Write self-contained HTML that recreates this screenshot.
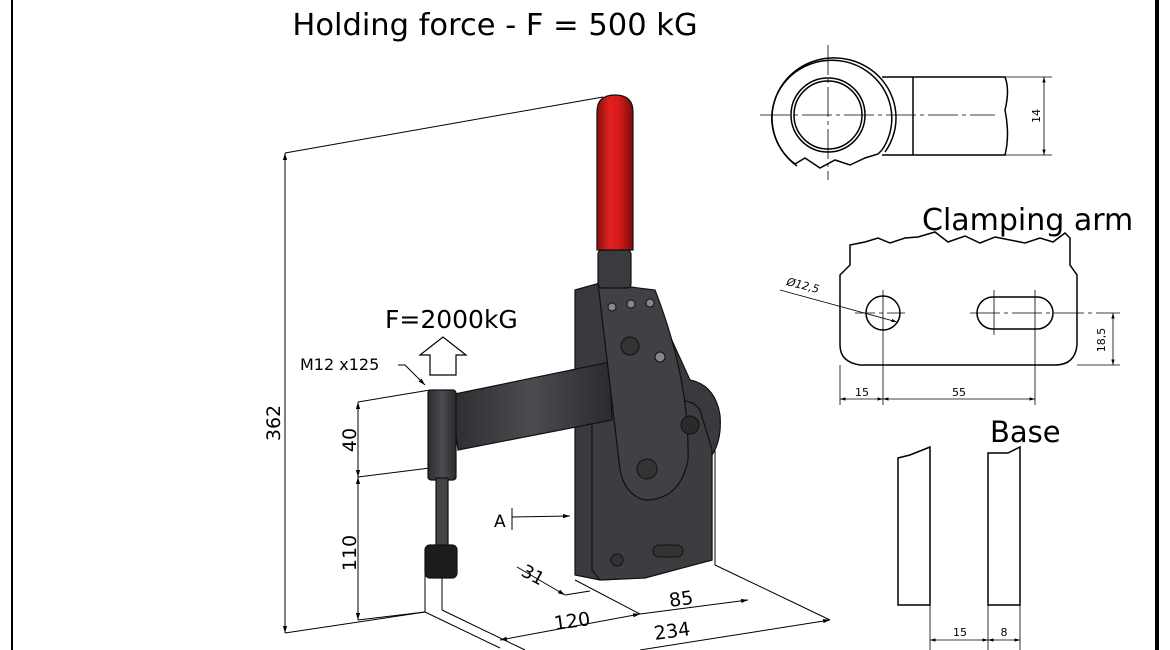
<!DOCTYPE html>
<html><head><meta charset="utf-8"><style>
html,body{margin:0;padding:0;background:#fff;}
svg{display:block;font-family:"DejaVu Sans","Liberation Sans",sans-serif;}
</style></head><body>
<svg width="1170" height="650" viewBox="0 0 1170 650" xmlns="http://www.w3.org/2000/svg">
<defs>
<linearGradient id="red" x1="0" x2="1" y1="0" y2="0">
<stop offset="0" stop-color="#8a0f0f"/><stop offset="0.35" stop-color="#e02020"/><stop offset="0.6" stop-color="#d81a1a"/><stop offset="1" stop-color="#7a0c0c"/>
</linearGradient>
<linearGradient id="dk" x1="0" x2="1"><stop offset="0" stop-color="#2c2d30"/><stop offset="0.5" stop-color="#4a4c50"/><stop offset="1" stop-color="#2a2b2e"/></linearGradient>
<marker id="ar" viewBox="0 0 10 10" refX="10" refY="5" markerWidth="7" markerHeight="7" orient="auto-start-reverse"><path d="M0,2 L10,5 L0,8z" fill="#000"/></marker>
</defs>
<rect width="1170" height="650" fill="#fff"/>
<line x1="12" y1="0" x2="12" y2="650" stroke="#000" stroke-width="2"/>
<line x1="1157" y1="0" x2="1157" y2="650" stroke="#000" stroke-width="4"/>
<text x="495" y="35" font-size="30.5" text-anchor="middle">Holding force - F = 500 kG</text>

<g stroke="#000" stroke-width="1" fill="none">
<line x1="285" y1="153" x2="603" y2="97"/>
<line x1="285" y1="153" x2="285" y2="633" marker-start="url(#ar)" marker-end="url(#ar)"/>
<line x1="285" y1="633" x2="425" y2="612"/>
<line x1="425" y1="612" x2="425" y2="575"/>
<line x1="442" y1="610" x2="442" y2="575"/>
<line x1="425" y1="612" x2="500" y2="648"/>
<line x1="442" y1="610" x2="525" y2="650"/>
<line x1="358" y1="402" x2="430" y2="390"/>
<line x1="358" y1="477" x2="430" y2="468"/>
<line x1="358" y1="402" x2="358" y2="477" marker-start="url(#ar)" marker-end="url(#ar)"/>
<line x1="358" y1="477" x2="358" y2="620" marker-start="url(#ar)" marker-end="url(#ar)"/>
<line x1="358" y1="620" x2="425" y2="612"/>
<line x1="500" y1="640" x2="640" y2="614" marker-start="url(#ar)" marker-end="url(#ar)"/>
<line x1="575" y1="580" x2="640" y2="614"/>
<line x1="640" y1="614" x2="748" y2="600" marker-end="url(#ar)"/>
<line x1="715" y1="445" x2="715" y2="565"/>
<line x1="715" y1="565" x2="830" y2="620"/>
<line x1="640" y1="650" x2="830" y2="620" marker-end="url(#ar)"/>
<line x1="517" y1="567" x2="565" y2="595" marker-end="url(#ar)"/>
<line x1="565" y1="595" x2="590" y2="591"/>
<line x1="512" y1="508" x2="512" y2="530"/>
<line x1="512" y1="517" x2="570" y2="516" marker-end="url(#ar)"/>
<line x1="398" y1="365" x2="405" y2="365"/>
<line x1="405" y1="365" x2="425" y2="385" marker-end="url(#ar)"/>
</g>
<path d="M430,375 L430,355 L420,355 L443,337 L466,355 L456,355 L456,375 Z" fill="#fff" stroke="#000" stroke-width="1.2"/>
<text x="385" y="328" font-size="25">F=2000kG</text>
<text x="300" y="370" font-size="16">M12 x125</text>
<text x="494" y="527" font-size="17">A</text>
<text transform="translate(280,423) rotate(-90)" font-size="19" text-anchor="middle">362</text>
<text transform="translate(356,440) rotate(-90)" font-size="19" text-anchor="middle">40</text>
<text transform="translate(356,553) rotate(-90)" font-size="19" text-anchor="middle">110</text>
<text transform="translate(520,575) rotate(28)" font-size="18">31</text>
<text transform="translate(555,630) rotate(-8)" font-size="19">120</text>
<text transform="translate(670,607) rotate(-8)" font-size="19">85</text>
<text transform="translate(655,640) rotate(-8)" font-size="19">234</text>

<g stroke="#111" stroke-width="1.2">
<path d="M690,380 Q715,385 720,415 Q722,440 712,455 L712,560 L640,578 L600,580 L575,575 L575,290 L600,283 L650,292 Z" fill="#393a3d"/>
<path d="M592,410 L665,405 Q690,395 700,410 L712,450 L712,560 L645,578 L600,580 L592,570 Z" fill="#3c3d41"/>
<path d="M450,395 L610,362 L612,420 L458,450 Z" fill="url(#dk)"/>
<path d="M598,283 L655,290 Q690,380 688,460 Q680,500 645,500 Q625,495 620,470 L600,300 Z" fill="#404145"/>
<rect x="598" y="250" width="33" height="38" rx="4" fill="#3a3b3e"/>
<path d="M597,112 Q597,95 615,95 Q633,95 633,112 L633,250 L597,250 Z" fill="url(#red)"/>
<rect x="428" y="390" width="28" height="90" rx="3" fill="url(#dk)"/>
<rect x="436" y="478" width="12" height="68" fill="#444"/>
<rect x="425" y="545" width="32" height="33" rx="5" fill="#1c1c1e"/>
</g>
<g fill="#888" stroke="#111">
<circle cx="612" cy="307" r="4"/><circle cx="631" cy="304" r="4"/><circle cx="650" cy="303" r="4"/>
<circle cx="630" cy="346" r="9" fill="#333"/><circle cx="660" cy="357" r="5"/>
<circle cx="647" cy="469" r="10" fill="#333"/><circle cx="690" cy="425" r="9" fill="#2a2a2a"/>
<circle cx="617" cy="560" r="6" fill="#333"/><rect x="653" y="545" width="30" height="12" rx="6" fill="#333"/>
</g>

<g stroke="#000" fill="none" stroke-width="1.5">
<path d="M795,164 A60,58 0 1 1 882,150"/>
<path d="M797,166 A62,60 0 1 1 885,152"/>
<circle cx="828" cy="115" r="37"/><circle cx="828" cy="115" r="34"/>
<path d="M795,164 L805,158 L820,168 L835,160 L850,165 L865,158 L878,154 L882,150"/>
<path d="M882,77 L1005,77 Q1010,90 1005,110 Q1010,135 1005,155 L882,155"/>
<line x1="913" y1="77" x2="913" y2="155"/>
</g>
<g stroke="#000" stroke-width="0.8" fill="none">
<line x1="828" y1="45" x2="828" y2="180" stroke-dasharray="30,4,4,4"/>
<line x1="760" y1="115" x2="995" y2="115" stroke-dasharray="30,4,4,4"/>
<line x1="1005" y1="77" x2="1052" y2="77"/><line x1="1005" y1="155" x2="1052" y2="155"/>
<line x1="1044" y1="77" x2="1044" y2="155" marker-start="url(#ar)" marker-end="url(#ar)"/>
</g>
<text transform="translate(1040,116) rotate(-90)" font-size="11" text-anchor="middle">14</text>

<text x="922" y="230" font-size="30">Clamping arm</text>
<g stroke="#000" fill="none" stroke-width="1.5">
<path d="M850,245 L865,242 L878,238 L890,243 L905,238 L918,237 L935,232 L948,242 L965,236 L980,243 L995,237 L1010,240 L1025,243 L1040,238 L1053,242 L1065,233 L1070,238 L1070,265 L1077,275 L1077,345 Q1075,365 1055,365 L860,365 Q840,362 840,345 L840,275 L850,265 Z"/>
<circle cx="883" cy="313" r="17"/>
<rect x="977" y="297" width="76" height="32" rx="16"/>
</g>
<g stroke="#000" stroke-width="0.8" fill="none">
<line x1="855" y1="313" x2="905" y2="313" stroke-dasharray="20,4,4,4"/>
<line x1="970" y1="313" x2="1120" y2="313" stroke-dasharray="30,4,4,4"/>
<line x1="883" y1="290" x2="883" y2="405"/>
<line x1="994" y1="290" x2="994" y2="335"/>
<line x1="1035" y1="290" x2="1035" y2="405"/>
<line x1="840" y1="365" x2="840" y2="405"/>
<line x1="1077" y1="365" x2="1120" y2="365"/>
<line x1="1113" y1="313" x2="1113" y2="365" marker-start="url(#ar)" marker-end="url(#ar)"/>
<line x1="840" y1="399" x2="883" y2="399" marker-start="url(#ar)" marker-end="url(#ar)"/>
<line x1="883" y1="399" x2="1035" y2="399" marker-start="url(#ar)" marker-end="url(#ar)"/>
<line x1="780" y1="290" x2="897" y2="322" marker-end="url(#ar)"/>
</g>
<text transform="translate(786,285) rotate(14)" font-size="11" font-style="italic">Ø12,5</text>
<text transform="translate(1105,340) rotate(-90)" font-size="11" text-anchor="middle">18,5</text>
<text x="862" y="396" font-size="11" text-anchor="middle">15</text>
<text x="959" y="396" font-size="11" text-anchor="middle">55</text>

<text x="990" y="442" font-size="29">Base</text>
<g stroke="#000" fill="none" stroke-width="1.5">
<path d="M898,605 L898,458 L910,455 L930,447 L930,605 Z"/>
<path d="M988,605 L988,453 L1008,453 L1020,447 L1020,605 Z"/>
</g>
<g stroke="#000" stroke-width="0.8">
<line x1="930" y1="605" x2="930" y2="650"/><line x1="988" y1="605" x2="988" y2="650"/><line x1="1020" y1="605" x2="1020" y2="650"/>
<line x1="930" y1="640" x2="988" y2="640" marker-start="url(#ar)" marker-end="url(#ar)"/>
<line x1="988" y1="640" x2="1020" y2="640" marker-start="url(#ar)" marker-end="url(#ar)"/>
</g>
<text x="960" y="636" font-size="11" text-anchor="middle">15</text>
<text x="1004" y="636" font-size="11" text-anchor="middle">8</text>
</svg>
</body></html>
